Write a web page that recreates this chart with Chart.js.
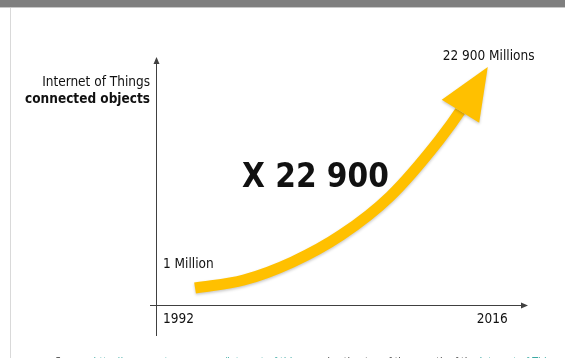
<!DOCTYPE html>
<html>
<head>
<meta charset="utf-8">
<script src="https://cdn.jsdelivr.net/npm/chart.js@4"></script>
<style>
  body { margin: 0; width: 565px; height: 358px; overflow: hidden; background: #fff; position: relative;
         font-family: "DejaVu Sans Condensed", "DejaVu Sans", sans-serif; }
  #bar { position: absolute; left: 0; top: 0; width: 565px; height: 7px; background: #7f7f7f; border-bottom: 1px solid #c8c8c8; }
  #edge { position: absolute; left: 10px; top: 8px; width: 1px; height: 350px; background: #d9d9d9; }
  #source { position: absolute; left: 55px; top: 355px; font-size: 10.5px; color: #404040; white-space: nowrap; }
  #source span { color: #3aa9a3; }
  canvas { position: absolute; left: 0; top: 0; }
</style>
</head>
<body>
<div id="bar"></div>
<div id="edge"></div>
<canvas id="growth" width="565" height="358"></canvas>
<div id="source">Source: <span>http://www.postscapes.com/internet-of-things</span> and estimates of the growth of the <span>Internet of Things</span></div>

<script>
// connected objects, in millions
const years = [1992, 1996, 2000, 2004, 2008, 2012, 2014, 2016];
const objects = [1, 830, 2700, 5500, 9500, 15300, 18800, 22900];
const tickYears = [1992, 2016];
const startLabel = '1 Million';
const endLabel = '22 900 Millions';
const growthLabel = 'X 22 900';
const axisTitle = ['Internet of Things', 'connected objects'];

const gold = '#FFC000';
const ink = '#404040';
const font = '"DejaVu Sans Condensed", "DejaVu Sans", sans-serif';
const headLen = 52, headHalf = 22;

function headGeometry(chart) {
  const pts = chart.getDatasetMeta(0).data;
  const tip = pts[pts.length - 1], prev = pts[pts.length - 2];
  let dx = tip.x - prev.x, dy = tip.y - prev.y;
  const len = Math.hypot(dx, dy);
  dx /= len; dy /= len;
  return { tip, dx, dy, bx: tip.x - dx * headLen, by: tip.y - dy * headLen };
}

function arrow(ctx, x, y, dx, dy) {
  ctx.beginPath();
  ctx.moveTo(x, y);
  ctx.lineTo(x - dx * 7 - dy * 3, y - dy * 7 + dx * 3);
  ctx.lineTo(x - dx * 7 + dy * 3, y - dy * 7 - dx * 3);
  ctx.closePath();
  ctx.fill();
}

const arrowChart = {
  id: 'arrowChart',
  beforeDatasetsDraw(chart) {
    const ctx = chart.ctx, a = chart.chartArea;
    // axes
    ctx.save();
    ctx.strokeStyle = ink;
    ctx.fillStyle = ink;
    ctx.lineWidth = 1;
    ctx.beginPath();
    ctx.moveTo(a.left + 0.5, a.bottom + 31);
    ctx.lineTo(a.left + 0.5, a.top + 5);
    ctx.moveTo(a.left - 6, a.bottom + 0.5);
    ctx.lineTo(a.right - 5, a.bottom + 0.5);
    ctx.stroke();
    arrow(ctx, a.left + 0.5, a.top, 0, -1);
    arrow(ctx, a.right, a.bottom + 0.5, 1, 0);
    ctx.restore();

    // stop the shaft where the head begins
    const g = headGeometry(chart);
    const px = -g.dy, py = g.dx;
    ctx.save();
    ctx.beginPath();
    ctx.moveTo(g.bx + px * 1000, g.by + py * 1000);
    ctx.lineTo(g.bx - px * 1000, g.by - py * 1000);
    ctx.lineTo(g.bx - px * 1000 - g.dx * 2000, g.by - py * 1000 - g.dy * 2000);
    ctx.lineTo(g.bx + px * 1000 - g.dx * 2000, g.by + py * 1000 - g.dy * 2000);
    ctx.closePath();
    ctx.clip();
    ctx.shadowColor = 'rgba(0,0,0,0.22)';
    ctx.shadowBlur = 3;
    ctx.shadowOffsetY = 1.5;
  },
  afterDatasetsDraw(chart) {
    const ctx = chart.ctx;
    ctx.restore();
    const g = headGeometry(chart);
    const px = -g.dy, py = g.dx;
    ctx.save();
    ctx.shadowColor = 'rgba(0,0,0,0.22)';
    ctx.shadowBlur = 3;
    ctx.shadowOffsetY = 1.5;
    ctx.fillStyle = gold;
    ctx.beginPath();
    ctx.moveTo(g.tip.x, g.tip.y);
    ctx.lineTo(g.bx + px * headHalf, g.by + py * headHalf);
    ctx.lineTo(g.bx - px * headHalf, g.by - py * headHalf);
    ctx.closePath();
    ctx.fill();
    ctx.restore();
  },
  afterDraw(chart) {
    const ctx = chart.ctx, a = chart.chartArea;
    const xs = chart.scales.x, ys = chart.scales.y;
    ctx.save();
    ctx.fillStyle = '#111';
    ctx.textBaseline = 'alphabetic';

    ctx.font = '13.5px ' + font;
    ctx.textAlign = 'right';
    ctx.fillText(axisTitle[0], a.left - 6, 86);
    ctx.font = 'bold 13.5px ' + font;
    ctx.fillText(axisTitle[1], a.left - 6, 103);

    ctx.font = '13.5px ' + font;
    ctx.textAlign = 'left';
    ctx.fillText(startLabel, xs.getPixelForValue(years[0]) - 32, ys.getPixelForValue(objects[0]) - 20);
    const last = years.length - 1;
    ctx.fillText(endLabel, xs.getPixelForValue(years[last]) - 45, ys.getPixelForValue(objects[last]) - 7);

    ctx.fillText(String(tickYears[0]), xs.getPixelForValue(tickYears[0]) - 32, a.bottom + 18);
    ctx.fillText(String(tickYears[1]), xs.getPixelForValue(tickYears[1]) - 11, a.bottom + 18);

    ctx.font = 'bold 33px ' + font;
    ctx.fillText(growthLabel, 242, 187);
    ctx.restore();
  }
};

new Chart(document.getElementById('growth'), {
  type: 'line',
  data: {
    datasets: [{
      data: years.map((y, i) => ({ x: y, y: objects[i] })),
      borderColor: gold,
      borderWidth: 11,
      borderCapStyle: 'butt',
      cubicInterpolationMode: 'monotone',
      pointRadius: 0,
      fill: false
    }]
  },
  options: {
    responsive: false,
    animation: false,
    devicePixelRatio: 1,
    layout: { padding: { left: 156, right: 37, top: 57, bottom: 53 } },
    scales: {
      x: { type: 'linear', display: false, min: 1988.8, max: 2019.3 },
      y: { display: false, min: -1760, max: 23936 }
    },
    plugins: { legend: { display: false }, tooltip: { enabled: false } }
  },
  plugins: [arrowChart]
});
</script>
</body>
</html>
